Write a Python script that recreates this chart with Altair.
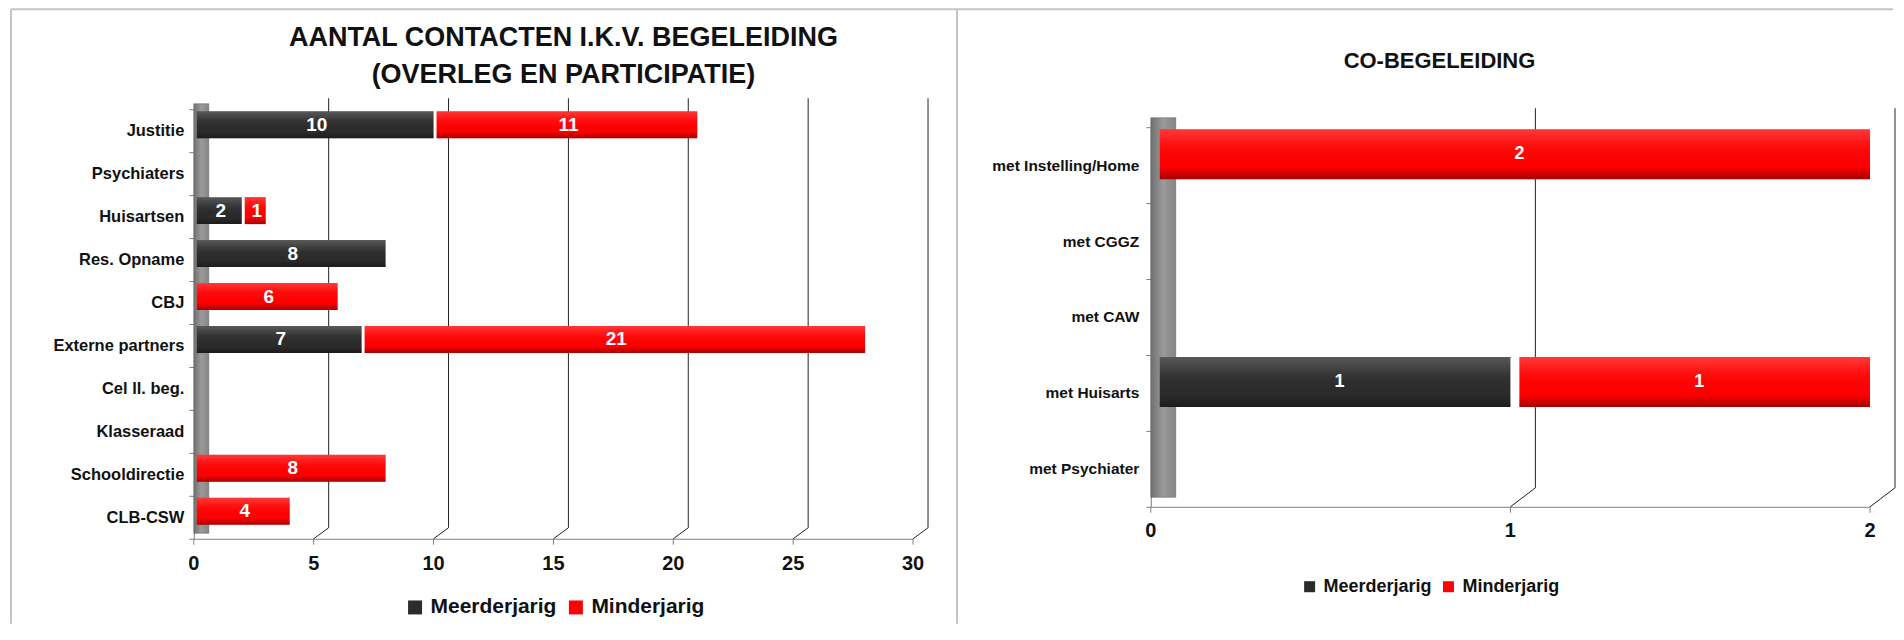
import altair as alt
import pandas as pd

# ---------------- data ----------------
left_title = ["AANTAL CONTACTEN I.K.V. BEGELEIDING", "(OVERLEG EN PARTICIPATIE)"]
left_categories = ["Justitie", "Psychiaters", "Huisartsen", "Res. Opname", "CBJ",
                   "Externe partners", "Cel ll. beg.", "Klasseraad", "Schooldirectie", "CLB-CSW"]
left_meerderjarig = [10, 0, 2, 8, 0, 7, 0, 0, 0, 0]
left_minderjarig = [11, 0, 1, 0, 6, 21, 0, 0, 8, 4]
left_ticks = [0, 5, 10, 15, 20, 25, 30]

right_title = "CO-BEGELEIDING"
right_categories = ["met Instelling/Home", "met CGGZ", "met CAW", "met Huisarts", "met Psychiater"]
right_meerderjarig = [0, 0, 0, 1, 0]
right_minderjarig = [2, 0, 0, 1, 0]
right_ticks = [0, 1, 2]

series = ["Meerderjarig", "Minderjarig"]
colors = ["#2b2b2b", "#ff0000"]

FONT = "Liberation Sans"
AXIS_GRAY = "#808080"
BORDER = "#c4c4c4"


def long_df(cats, meer, minder):
    rows = []
    for c, a, b in zip(cats, meer, minder):
        rows.append({"category": c, "group": series[0], "value": a, "order": 0})
        rows.append({"category": c, "group": series[1], "value": b, "order": 1})
    return pd.DataFrame(rows)


one = pd.DataFrame({"k": [0]})

shade = alt.LinearGradient(
    gradient="linear", x1=0, x2=0, y1=0, y2=1,
    stops=[
        alt.GradientStop(offset=0, color="rgba(255,255,255,0.22)"),
        alt.GradientStop(offset=0.35, color="rgba(255,255,255,0.05)"),
        alt.GradientStop(offset=0.75, color="rgba(0,0,0,0.0)"),
        alt.GradientStop(offset=1, color="rgba(0,0,0,0.35)"),
    ],
)
wall_fill = alt.LinearGradient(
    gradient="linear", x1=0, x2=1, y1=0, y2=0,
    stops=[
        alt.GradientStop(offset=0, color="#707070"),
        alt.GradientStop(offset=0.5, color="#9a9a9a"),
        alt.GradientStop(offset=1, color="#858585"),
    ],
)


def panel(cats, meer, minder, ticks, W, H, yr, bar_size, bar_dy, bar_dx,
          depth_dx, depth_dy, wall_w, label_size, label_pad, tick_label_size,
          tick_label_dy, legend_x, legend_y, legend_sym, legend_font,
          legend_gap, value_font, borders, titles):
    df = long_df(cats, meer, minder)
    xscale = alt.Scale(domain=[ticks[0], ticks[-1]], nice=False)
    yscale = alt.Scale(domain=cats, range=yr, paddingInner=0, paddingOuter=0)
    xaxis = alt.Axis(title=None, labels=False, ticks=False, grid=False,
                     domainColor=AXIS_GRAY)
    yaxis = alt.Axis(title=None, labelFontSize=label_size, labelFontWeight="bold",
                     labelColor="#111", tickBand="extent", tickSize=5,
                     labelPadding=label_pad, domainColor=AXIS_GRAY,
                     tickColor=AXIS_GRAY, grid=False, labelFont=FONT, labelLimit=300,
                     labelOverlap=False)

    base = (alt.Chart(df)
            .transform_stack(stack="value", groupby=["category"], as_=["x0", "x1"],
                             sort=[alt.SortField("order", order="ascending")])
            .transform_filter("datum.value > 0")
            .transform_calculate(mid="(datum.x0 + datum.x1) / 2"))

    bars = base.mark_bar(size=bar_size, yOffset=bar_dy, xOffset=bar_dx, strokeWidth=0).encode(
        x=alt.X("x0:Q", scale=xscale, axis=xaxis),
        x2="x1:Q",
        y=alt.Y("category:N", sort=cats, scale=yscale, axis=yaxis),
        color=alt.Color("group:N", scale=alt.Scale(domain=series, range=colors),
                        legend=alt.Legend(title=None, orient="none", legendX=legend_x,
                                          legendY=legend_y, direction="horizontal",
                                          symbolType="square", symbolSize=legend_sym,
                                          symbolStrokeWidth=0, labelFontSize=legend_font,
                                          labelFont=FONT, labelFontWeight="bold",
                                          labelColor="#111", labelOffset=5,
                                          columnPadding=legend_gap, padding=0)),
    )

    overlay = base.mark_bar(size=bar_size, yOffset=bar_dy, xOffset=bar_dx, fill=shade,
                            strokeWidth=0).encode(
        x=alt.X("x0:Q", scale=xscale, axis=xaxis),
        x2="x1:Q",
        y=alt.Y("category:N", sort=cats, scale=yscale, axis=yaxis),
    )

    labels = base.mark_text(color="white", fontSize=value_font, fontWeight="bold", font=FONT,
                            yOffset=bar_dy, xOffset=bar_dx, baseline="middle").encode(
        x=alt.X("mid:Q", scale=xscale, axis=xaxis),
        y=alt.Y("category:N", sort=cats, scale=yscale, axis=yaxis),
        text=alt.Text("value:Q", format="d"),
    )

    tdf = pd.DataFrame({"t": ticks})
    xticks = alt.Chart(tdf).mark_rule(color=AXIS_GRAY, strokeWidth=1).encode(
        x=alt.X("t:Q", scale=xscale, axis=xaxis),
        y=alt.value(H), y2=alt.value(H + 6),
    )
    xlabels = alt.Chart(tdf).mark_text(font=FONT, fontSize=tick_label_size, fontWeight="bold",
                                       color="#111", baseline="middle", align="center").encode(
        x=alt.X("t:Q", scale=xscale, axis=xaxis),
        y=alt.value(H + tick_label_dy),
        text=alt.Text("t:Q", format="d"),
    )

    gdf = pd.DataFrame({"t": ticks[1:]})
    grid = alt.Chart(gdf).mark_rule(color="#222222", strokeWidth=1, xOffset=depth_dx).encode(
        x=alt.X("t:Q", scale=xscale, axis=xaxis),
        y=alt.value(yr[0] - depth_dy),
        y2=alt.value(H - depth_dy),
    )
    diag = alt.Chart(gdf).mark_rule(color="#222222", strokeWidth=1, x2Offset=depth_dx).encode(
        x=alt.X("t:Q", scale=xscale, axis=xaxis),
        x2=alt.X2("t"),
        y=alt.value(H),
        y2=alt.value(H - depth_dy),
    )

    wall = alt.Chart(one).mark_rect(fill=wall_fill, stroke="#5a5a5a", strokeWidth=0.5).encode(
        x=alt.value(0), x2=alt.value(wall_w),
        y=alt.value(yr[0] - depth_dy / 2), y2=alt.value(H - depth_dy / 2),
    )

    layers = []
    for (x1, x2, y1, y2) in borders:
        layers.append(alt.Chart(one).mark_rule(color=BORDER, strokeWidth=2).encode(
            x=alt.value(x1), x2=alt.value(x2), y=alt.value(y1), y2=alt.value(y2)))
    layers += [wall, grid, diag, xticks, xlabels, bars, overlay, labels]
    for (txt, tx, ty, fs) in titles:
        layers.append(alt.Chart(one).mark_text(font=FONT, fontSize=fs, fontWeight="bold",
                                               color="#111", align="center",
                                               baseline="middle").encode(
            x=alt.value(tx), y=alt.value(ty), text=alt.value(txt)))

    return alt.layer(*layers).properties(width=W, height=H)


left = panel(
    left_categories, left_meerderjarig, left_minderjarig, left_ticks,
    W=720, H=430, yr=[0, 430], bar_size=27, bar_dy=-6, bar_dx=3,
    depth_dx=15, depth_dy=11, wall_w=15, label_size=16.5, label_pad=5,
    tick_label_size=20, tick_label_dy=25,
    legend_x=211, legend_y=488, legend_sym=196, legend_font=21, legend_gap=8,
    value_font=19,
    borders=[(-183, 764, -100, -100), (-183, -183, -100, 515), (764, 764, -100, 515)],
    titles=[(left_title[0], 370, -71, 27), (left_title[1], 370, -34, 27)],
)

right = panel(
    right_categories, right_meerderjarig, right_minderjarig, right_ticks,
    W=720, H=398, yr=[18, 398], bar_size=50, bar_dy=-11, bar_dx=9,
    depth_dx=25, depth_dy=19, wall_w=25, label_size=15.5, label_pad=7,
    tick_label_size=20, tick_label_dy=24,
    legend_x=150, legend_y=469, legend_sym=121, legend_font=18, legend_gap=7,
    value_font=18,
    borders=[(-194, 743, -100, -100)],
    titles=[(right_title, 289, -48, 22)],
)

chart = (alt.hconcat(left, right, spacing=238, bounds="flush")
         .resolve_scale(color="independent", x="independent", y="independent")
         .resolve_legend(color="independent")
         .properties(padding={"left": 2, "top": 0, "right": 0, "bottom": 0})
         .configure(font=FONT)
         .configure_view(stroke="transparent", strokeWidth=0))

chart.save("out.html", embed_options={"renderer": "svg", "actions": False})
